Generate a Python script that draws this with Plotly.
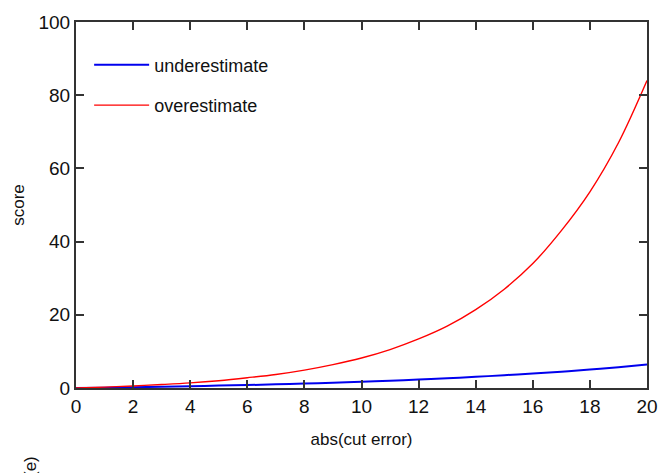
import plotly.graph_objects as go

x_vals = list(range(0, 21))
under_vals = [0, 0.1, 0.2, 0.35, 0.5, 0.65, 0.8, 1.0, 1.2, 1.45, 1.7, 2.0, 2.3, 2.65,
              3.05, 3.5, 3.95, 4.45, 5.05, 5.7, 6.4]
over_vals = [0, 0.25, 0.56, 0.95, 1.4, 2.0, 2.8, 3.7, 4.9, 6.4, 8.2, 10.5, 13.4, 16.9,
             21.4, 27, 34, 43, 53.6, 67, 84]
x_ticks = list(range(0, 21, 2))
y_ticks = list(range(0, 101, 20))

FONT = "Liberation Sans, Arial, sans-serif"

fig = go.Figure()
fig.add_trace(go.Scatter(x=x_vals, y=under_vals, mode="lines", name="underestimate",
                         legendgroup="u",
                         line=dict(color="#0000ee", width=2, shape="spline")))
fig.add_trace(go.Scatter(x=x_vals, y=over_vals, mode="lines", name="overestimate",
                         legendgroup="o",
                         line=dict(color="#ff0000", width=1.4, shape="spline")))

axis_common = dict(showgrid=False, zeroline=False, showline=True, linecolor="#333333",
                   linewidth=2, mirror="ticks", ticks="inside", ticklen=8,
                   tickcolor="#333333", tickwidth=2, automargin=False,
                   tickfont=dict(family=FONT, size=19, color="#111111"))

fig.update_layout(
    width=670, height=473,
    margin=dict(l=76, r=23, t=22, b=85),
    paper_bgcolor="white", plot_bgcolor="white",
    xaxis=dict(range=[0, 20], tickvals=x_ticks,
               title=dict(text="abs(cut error)", font=dict(family=FONT, size=17, color="#111111"),
                          standoff=17),
               **axis_common),
    yaxis=dict(range=[0, 100], tickvals=y_ticks,
               title=dict(text="score", font=dict(family=FONT, size=17, color="#111111"),
                          standoff=10),
               **axis_common),
    legend=dict(x=0.023, y=0.933, xanchor="left", yanchor="top", bgcolor="rgba(0,0,0,0)",
                font=dict(family=FONT, size=18, color="#111111"), traceorder="grouped",
                tracegroupgap=14, itemwidth=55),
    showlegend=True,
)
fig.add_annotation(text="(e)", xref="paper", yref="paper", x=-0.08, y=-0.215,
                   xanchor="center", yanchor="middle",
                   showarrow=False, textangle=-90,
                   font=dict(family=FONT, size=17, color="#111111"))

fig.write_html("out.html", post_script="document.body.style.margin='0';",
               config={"displayModeBar": False})
